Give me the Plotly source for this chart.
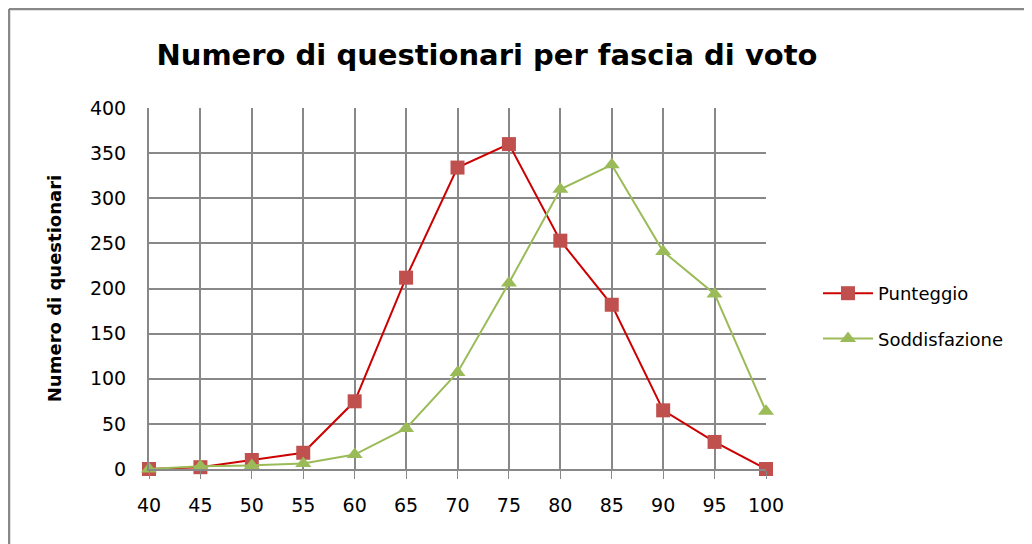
import plotly.graph_objects as go

fasce = [40, 45, 50, 55, 60, 65, 70, 75, 80, 85, 90, 95, 100]
punteggio = [0, 2, 10, 18, 75, 212, 334, 360, 253, 182, 65, 30, 0]
soddisfazione = [0, 3, 4, 6, 16, 45, 107, 206, 310, 337, 241, 194, 64]
y_ticks = [0, 50, 100, 150, 200, 250, 300, 350, 400]

FONT = "DejaVu Sans"
OFF = 8  # page body margin
W, H = 1032, 544
L, R, T, B = 149 - OFF, 1032 - 766 + OFF, 108 - OFF, 544 - 469 + OFF
pw = W - L - R
ph = H - T - B


def px_x(px):
    # page pixel -> paper coordinate
    return (px - OFF - L) / pw


def px_y(py):
    return (H - B - (py - OFF)) / ph


fig = go.Figure()
fig.add_trace(go.Scatter(
    x=fasce, y=punteggio, name="Punteggio", mode="lines+markers",
    line=dict(color="#CC0000", width=2),
    marker=dict(symbol="square", size=14, color="#C0504D"),
    legendgroup="a", cliponaxis=False,
))
fig.add_trace(go.Scatter(
    x=fasce, y=soddisfazione, name="Soddisfazione", mode="lines+markers",
    line=dict(color="#9BBB59", width=2),
    marker=dict(symbol="triangle-up", size=14, color="#9BBB59"),
    legendgroup="b", cliponaxis=False,
))

fig.update_layout(
    width=W, height=H,
    margin=dict(l=L, r=R, t=T, b=B),
    paper_bgcolor="white", plot_bgcolor="white",
    font=dict(family=FONT, size=18, color="#000000"),
    title=dict(text="<b>Numero di questionari per fascia di voto</b>",
               font=dict(family=FONT, size=29, color="#000000"),
               x=px_x(487), xref="paper", xanchor="center",
               y=1 - (55 - OFF) / H, yref="container", yanchor="middle"),
    showlegend=True,
    legend=dict(x=px_x(818), y=px_y(316), xanchor="left", yanchor="middle",
                font=dict(family=FONT, size=18, color="#000000"),
                traceorder="grouped", tracegroupgap=19, itemwidth=50,
                bgcolor="rgba(0,0,0,0)"),
    xaxis=dict(range=[40, 100], tickvals=fasce, showgrid=True,
               gridcolor="#888888", gridwidth=1.5,
               showline=True, linecolor="#888888", linewidth=2,
               ticks="outside", ticklen=8, tickcolor="#888888",
               ticklabelstandoff=10,
               zeroline=False, tickfont=dict(size=19)),
    yaxis=dict(range=[0, 400], tickvals=y_ticks, showgrid=True,
               gridcolor="#888888", gridwidth=1.5,
               showline=True, linecolor="#888888", linewidth=2,
               zeroline=False, ticks="outside", ticklen=17,
               tickcolor="rgba(0,0,0,0)", tickfont=dict(size=19),
               title=dict(text="<b>Numero di questionari</b>",
                          font=dict(family=FONT, size=18, color="#000000"),
                          standoff=24)),
    shapes=[
        dict(type="line", xref="paper", yref="paper",
             x0=px_x(OFF + 1), x1=px_x(OFF + 1), y0=px_y(OFF + 1), y1=px_y(H + 20),
             line=dict(color="#888888", width=2.5)),
        dict(type="line", xref="paper", yref="paper",
             x0=px_x(OFF + 1), x1=px_x(W + 20), y0=px_y(OFF + 1), y1=px_y(OFF + 1),
             line=dict(color="#888888", width=2.5)),
    ],
)

fig.write_html("out.html")
